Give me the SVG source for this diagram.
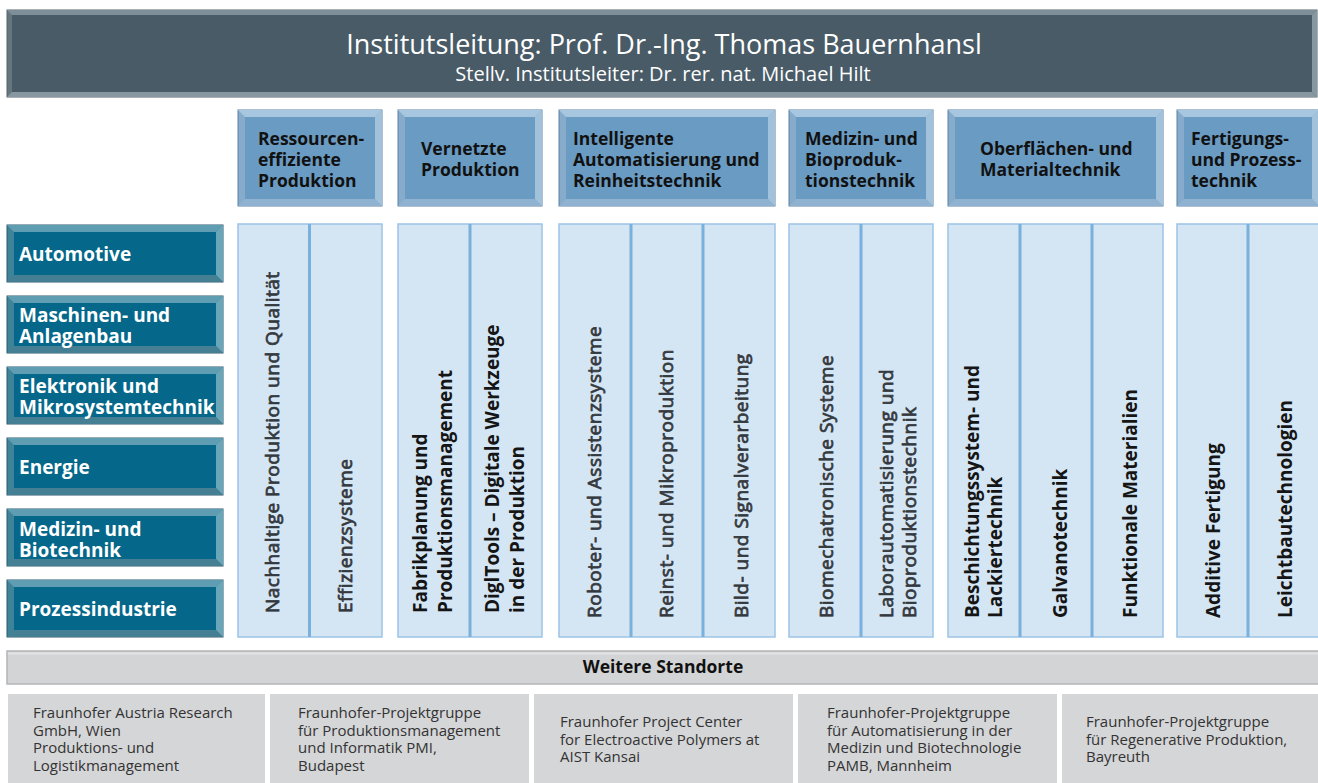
<svg xmlns="http://www.w3.org/2000/svg" width="1318" height="783" viewBox="0 0 1318 783">
<style>
text{font-family:"Open Sans","Noto Sans","Liberation Sans",sans-serif}
.hbase{fill:#66767f;stroke:#56636b;stroke-width:1}
.ht{fill:#7f8f99}.hr{fill:#8898a1}.hb{fill:#8898a1}.hin{fill:#485b67}
.dbase{fill:#86abcb;stroke:#5b82a3;stroke-width:1}
.dt{fill:#a7c6df}.dr{fill:#a2c2dc}.db{fill:#8eb2cf}.din{fill:#6a9bc3}
.sbase{fill:#3f8399;stroke:#2d5b6b;stroke-width:1}
.st{fill:#5f9db2}.sr{fill:#6aa6ba}.sb{fill:#447f93}.sin{fill:#05688a}
.col{fill:#d4e5f4;stroke:#9cc4e6;stroke-width:1.5}
.div{stroke:#7ab0dc;stroke-width:3}
.title{fill:#fff;font-size:27px}
.sub{fill:#fff;font-size:20px}
.dtx{fill:#111;font-size:17.5px;font-weight:700}
.stx{fill:#fff;font-size:19px;font-weight:700}
.cg{fill:#34393e;stroke:#34393e;stroke-width:0.75;font-size:19px;letter-spacing:0.5px}
.cb{fill:#151515;font-size:19px;font-weight:700}
.bar{fill:#d3d4d6;stroke:#b3b4b6;stroke-width:1.5}
.bartx{fill:#111;font-size:17.5px;font-weight:700}
.loc{fill:#d5d6d8}
.ltx{fill:#333;font-size:15px}
</style>

<g id="header">
<rect class="hbase" x="7" y="10" width="1310" height="87"/>
<polygon class="ht" points="7,10 1317,10 1312,15 12,15"/>
<polygon class="hr" points="1317,10 1317,97 1312,92 1312,15"/>
<polygon class="hb" points="7,97 1317,97 1312,92 12,92"/>
<rect class="hin" x="12" y="15" width="1300" height="77"/>
<text class="title" x="664" y="54" text-anchor="middle">Institutsleitung: Prof. Dr.-Ing. Thomas Bauernhansl</text>
<text class="sub" x="663" y="81" text-anchor="middle">Stellv. Institutsleiter: Dr. rer. nat. Michael Hilt</text>
</g>

<g id="dept-ressourcen">
<rect class="dbase" x="238" y="110" width="144" height="96"/>
<polygon class="dt" points="238,110 382,110 375,117 245,117"/>
<polygon class="dr" points="382,110 382,206 375,199 375,117"/>
<polygon class="db" points="238,206 382,206 375,199 245,199"/>
<rect class="din" x="245" y="117" width="130" height="82"/>
<text class="dtx" x="258" y="145">Ressourcen-</text>
<text class="dtx" x="258" y="166">effiziente</text>
<text class="dtx" x="258" y="187">Produktion</text>
</g>

<g id="dept-vernetzte">
<rect class="dbase" x="398" y="110" width="144" height="96"/>
<polygon class="dt" points="398,110 542,110 535,117 405,117"/>
<polygon class="dr" points="542,110 542,206 535,199 535,117"/>
<polygon class="db" points="398,206 542,206 535,199 405,199"/>
<rect class="din" x="405" y="117" width="130" height="82"/>
<text class="dtx" x="421" y="155">Vernetzte</text>
<text class="dtx" x="421" y="176">Produktion</text>
</g>

<g id="dept-automatisierung">
<rect class="dbase" x="559" y="110" width="216" height="96"/>
<polygon class="dt" points="559,110 775,110 768,117 566,117"/>
<polygon class="dr" points="775,110 775,206 768,199 768,117"/>
<polygon class="db" points="559,206 775,206 768,199 566,199"/>
<rect class="din" x="566" y="117" width="202" height="82"/>
<text class="dtx" x="573" y="145">Intelligente</text>
<text class="dtx" x="573" y="166">Automatisierung und</text>
<text class="dtx" x="573" y="187">Reinheitstechnik</text>
</g>

<g id="dept-medizin">
<rect class="dbase" x="789" y="110" width="144" height="96"/>
<polygon class="dt" points="789,110 933,110 926,117 796,117"/>
<polygon class="dr" points="933,110 933,206 926,199 926,117"/>
<polygon class="db" points="789,206 933,206 926,199 796,199"/>
<rect class="din" x="796" y="117" width="130" height="82"/>
<text class="dtx" x="805" y="145">Medizin- und</text>
<text class="dtx" x="805" y="166">Bioproduk-</text>
<text class="dtx" x="805" y="187">tionstechnik</text>
</g>

<g id="dept-oberflaechen">
<rect class="dbase" x="948" y="110" width="215" height="96"/>
<polygon class="dt" points="948,110 1163,110 1156,117 955,117"/>
<polygon class="dr" points="1163,110 1163,206 1156,199 1156,117"/>
<polygon class="db" points="948,206 1163,206 1156,199 955,199"/>
<rect class="din" x="955" y="117" width="201" height="82"/>
<text class="dtx" x="980" y="155">Oberflächen- und</text>
<text class="dtx" x="980" y="176">Materialtechnik</text>
</g>

<g id="dept-fertigung">
<rect class="dbase" x="1177" y="110" width="142" height="96"/>
<polygon class="dt" points="1177,110 1319,110 1312,117 1184,117"/>
<polygon class="dr" points="1319,110 1319,206 1312,199 1312,117"/>
<polygon class="db" points="1177,206 1319,206 1312,199 1184,199"/>
<rect class="din" x="1184" y="117" width="128" height="82"/>
<text class="dtx" x="1191" y="145">Fertigungs-</text>
<text class="dtx" x="1191" y="166">und Prozess-</text>
<text class="dtx" x="1191" y="187">technik</text>
</g>

<g id="sector-automotive">
<rect class="sbase" x="7" y="225" width="216" height="57"/>
<polygon class="st" points="7,225 223,225 216,232 14,232"/>
<polygon class="sr" points="223,225 223,282 216,275 216,232"/>
<polygon class="sb" points="7,282 223,282 216,275 14,275"/>
<rect class="sin" x="14" y="232" width="202" height="43"/>
<text class="stx" x="19" y="261">Automotive</text>
</g>

<g id="sector-maschinen">
<rect class="sbase" x="7" y="296" width="216" height="57"/>
<polygon class="st" points="7,296 223,296 216,303 14,303"/>
<polygon class="sr" points="223,296 223,353 216,346 216,303"/>
<polygon class="sb" points="7,353 223,353 216,346 14,346"/>
<rect class="sin" x="14" y="303" width="202" height="43"/>
<text class="stx" x="19" y="322">Maschinen- und</text>
<text class="stx" x="19" y="343">Anlagenbau</text>
</g>

<g id="sector-elektronik">
<rect class="sbase" x="7" y="367" width="216" height="57"/>
<polygon class="st" points="7,367 223,367 216,374 14,374"/>
<polygon class="sr" points="223,367 223,424 216,417 216,374"/>
<polygon class="sb" points="7,424 223,424 216,417 14,417"/>
<rect class="sin" x="14" y="374" width="202" height="43"/>
<text class="stx" x="19" y="393">Elektronik und</text>
<text class="stx" x="19" y="414">Mikrosystemtechnik</text>
</g>

<g id="sector-energie">
<rect class="sbase" x="7" y="438" width="216" height="57"/>
<polygon class="st" points="7,438 223,438 216,445 14,445"/>
<polygon class="sr" points="223,438 223,495 216,488 216,445"/>
<polygon class="sb" points="7,495 223,495 216,488 14,488"/>
<rect class="sin" x="14" y="445" width="202" height="43"/>
<text class="stx" x="19" y="474">Energie</text>
</g>

<g id="sector-medizin">
<rect class="sbase" x="7" y="509" width="216" height="57"/>
<polygon class="st" points="7,509 223,509 216,516 14,516"/>
<polygon class="sr" points="223,509 223,566 216,559 216,516"/>
<polygon class="sb" points="7,566 223,566 216,559 14,559"/>
<rect class="sin" x="14" y="516" width="202" height="43"/>
<text class="stx" x="19" y="536">Medizin- und</text>
<text class="stx" x="19" y="557">Biotechnik</text>
</g>

<g id="sector-prozess">
<rect class="sbase" x="7" y="580" width="216" height="57"/>
<polygon class="st" points="7,580 223,580 216,587 14,587"/>
<polygon class="sr" points="223,580 223,637 216,630 216,587"/>
<polygon class="sb" points="7,637 223,637 216,630 14,630"/>
<rect class="sin" x="14" y="587" width="202" height="43"/>
<text class="stx" x="19" y="616">Prozessindustrie</text>
</g>

<g id="cols-ressourcen">
<rect class="col" x="238" y="224" width="144" height="413"/>
<line class="div" x1="309.5" y1="224" x2="309.5" y2="637"/>
<text class="cg" transform="translate(279,613) rotate(-90)">Nachhaltige Produktion und Qualität</text>
<text class="cg" transform="translate(352,613) rotate(-90)">Effizienzsysteme</text>
</g>

<g id="cols-vernetzte">
<rect class="col" x="398" y="224" width="144" height="413"/>
<line class="div" x1="470" y1="224" x2="470" y2="637"/>
<text class="cb" transform="translate(427,613) rotate(-90)">Fabrikplanung und</text>
<text class="cb" transform="translate(452,613) rotate(-90)">Produktionsmanagement</text>
<text class="cb" transform="translate(499,613) rotate(-90)">DiglTools – Digitale Werkzeuge</text>
<text class="cb" transform="translate(524,613) rotate(-90)">in der Produktion</text>
</g>

<g id="cols-automatisierung">
<rect class="col" x="559" y="224" width="216" height="413"/>
<line class="div" x1="631" y1="224" x2="631" y2="637"/>
<line class="div" x1="703" y1="224" x2="703" y2="637"/>
<text class="cg" transform="translate(601,618) rotate(-90)">Roboter- und Assistenzsysteme</text>
<text class="cg" transform="translate(673,618) rotate(-90)">Reinst- und Mikroproduktion</text>
<text class="cg" transform="translate(748,618) rotate(-90)">Bild- und Signalverarbeitung</text>
</g>

<g id="cols-medizin">
<rect class="col" x="789" y="224" width="144" height="413"/>
<line class="div" x1="861" y1="224" x2="861" y2="637"/>
<text class="cg" transform="translate(833,618) rotate(-90)">Biomechatronische Systeme</text>
<text class="cg" transform="translate(893,618) rotate(-90)">Laborautomatisierung und</text>
<text class="cg" transform="translate(916,618) rotate(-90)">Bioproduktionstechnik</text>
</g>

<g id="cols-oberflaechen">
<rect class="col" x="948" y="224" width="215" height="413"/>
<line class="div" x1="1020" y1="224" x2="1020" y2="637"/>
<line class="div" x1="1092" y1="224" x2="1092" y2="637"/>
<text class="cb" transform="translate(979,618) rotate(-90)">Beschichtungssystem- und</text>
<text class="cb" transform="translate(1002,618) rotate(-90)">Lackiertechnik</text>
<text class="cb" transform="translate(1067,618) rotate(-90)">Galvanotechnik</text>
<text class="cb" transform="translate(1137,618) rotate(-90)">Funktionale Materialien</text>
</g>

<g id="cols-fertigung">
<rect class="col" x="1177" y="224" width="143" height="413"/>
<line class="div" x1="1248" y1="224" x2="1248" y2="637"/>
<text class="cb" transform="translate(1220,618) rotate(-90)">Additive Fertigung</text>
<text class="cb" transform="translate(1292,618) rotate(-90)">Leichtbautechnologien</text>
</g>

<g id="standorte-bar">
<rect class="bar" x="7" y="651" width="1312" height="33"/>
<line x1="8" y1="653.5" x2="1318" y2="653.5" stroke="#e2e3e5" stroke-width="2"/>
<text class="bartx" x="663" y="673" text-anchor="middle">Weitere Standorte</text>
</g>

<g id="loc-austria">
<rect class="loc" x="8" y="694" width="257" height="89"/>
<text class="ltx" x="33" y="718">Fraunhofer Austria Research</text>
<text class="ltx" x="33" y="736">GmbH, Wien</text>
<text class="ltx" x="33" y="753">Produktions- und</text>
<text class="ltx" x="33" y="771">Logistikmanagement</text>
</g>

<g id="loc-pmi">
<rect class="loc" x="270" y="694" width="259" height="89"/>
<text class="ltx" x="298" y="718">Fraunhofer-Projektgruppe</text>
<text class="ltx" x="298" y="736">für Produktionsmanagement</text>
<text class="ltx" x="298" y="753">und Informatik PMI,</text>
<text class="ltx" x="298" y="771">Budapest</text>
</g>

<g id="loc-aist">
<rect class="loc" x="534" y="694" width="259" height="89"/>
<text class="ltx" x="560" y="727">Fraunhofer Project Center</text>
<text class="ltx" x="560" y="745">for Electroactive Polymers at</text>
<text class="ltx" x="560" y="762">AIST Kansai</text>
</g>

<g id="loc-pamb">
<rect class="loc" x="798" y="694" width="259" height="89"/>
<text class="ltx" x="827" y="718">Fraunhofer-Projektgruppe</text>
<text class="ltx" x="827" y="736">für Automatisierung in der</text>
<text class="ltx" x="827" y="753">Medizin und Biotechnologie</text>
<text class="ltx" x="827" y="771">PAMB, Mannheim</text>
</g>

<g id="loc-bayreuth">
<rect class="loc" x="1062" y="694" width="256" height="89"/>
<text class="ltx" x="1086" y="727">Fraunhofer-Projektgruppe</text>
<text class="ltx" x="1086" y="745">für Regenerative Produktion,</text>
<text class="ltx" x="1086" y="762">Bayreuth</text>
</g>

<g id="connectors"/>
</svg>
